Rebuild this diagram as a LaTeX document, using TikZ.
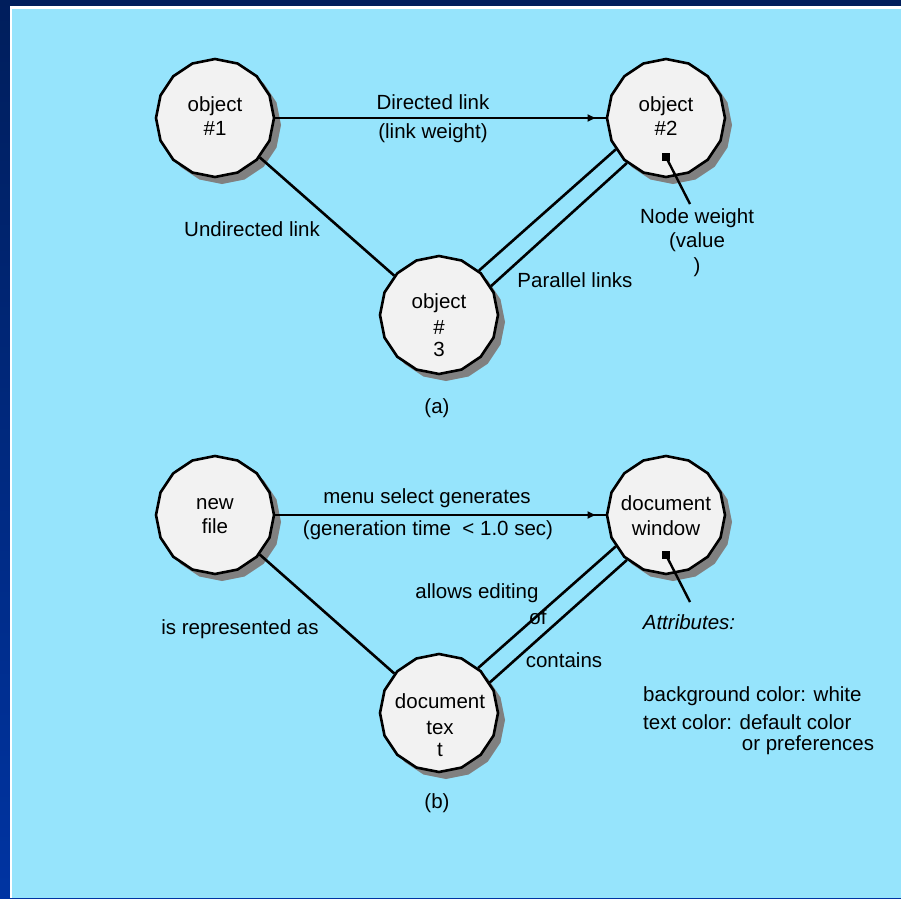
\documentclass[tikz,border=0pt]{standalone}
\usepackage{fontspec}
\setmainfont{Liberation Sans}
\usetikzlibrary{shapes.geometric,shadows,arrows.meta,decorations.markings}

\definecolor{framedark}{RGB}{0,30,92}
\definecolor{framelight}{RGB}{0,52,162}
\definecolor{panel}{RGB}{150,228,252}
\definecolor{nodefill}{RGB}{242,242,242}
\definecolor{shadowgray}{RGB}{128,128,128}

\begin{document}
\begin{tikzpicture}[x=1pt,y=-1pt,
  font=\fontsize{20.5}{24.8}\selectfont,
  entity/.style={regular polygon, regular polygon sides=16,
    shape border rotate=11.25, minimum size=118pt, inner sep=0pt,
    draw=black, line width=2.6pt, fill=nodefill,
    drop shadow={shadow xshift=7pt, shadow yshift=-7pt,
      fill=shadowgray, opacity=1}},
  entitytext/.style={align=center, inner sep=0pt},
  link/.style={line width=2.6pt},
  directed/.style={link, postaction={decorate}, decoration={markings,
    mark=at position -9pt with {\arrow{Latex[length=9pt,width=8pt]}}}},
  lbl/.style={inner sep=0pt, align=center},
  weightmark/.style={fill=black, minimum size=8pt, inner sep=0pt}
]
\useasboundingbox (0,0) rectangle (901,898);

% frame and panel
\shade[top color=framedark, bottom color=framelight] (0,0) rectangle (901,898);
\fill[white] (10,6) rectangle (901,898);
\fill[panel] (12,9) rectangle (901,898);

% ---------------- (a) generic network ----------------
\node[entity] (o1) at (215,118) {};
\node[entity] (o2) at (666,118) {};
\node[entity] (o3) at (439,315) {};
\node[entitytext] (o1t) at (215,116) {object\\\#1};
\node[entitytext] (o2t) at (666,116) {object\\\#2};
\node[entitytext] (o3t) at (439,325) {object\\[2pt]\#\\[-3pt]3};

\draw[directed] (o1) -- (o2);
\draw[link] (o1) -- (o3);
\draw[link] (o3.48) -- (o2.212);
\draw[link] (o3.29) -- (o2.229);

\node[lbl] (dl) at (433,102) {Directed link};
\node[lbl] (lw) at (433,133) {(link weight)};
\node[lbl] (ul) at (252,229) {Undirected link};
\node[lbl] (pl) at (575,280) {Parallel links};

\node[weightmark] (w1) at (666,157) {};
\coordinate (w1end) at (690,204);
\draw[link, line width=2.4pt] (w1.center) -- (w1end);
\node[lbl, anchor=north] (nw) at (697,208) {Node weight\\(value\\)};

\node[lbl] (capa) at (437,408) {(a)};

% ---------------- (b) editor example ----------------
\node[entity] (nf) at (215,515) {};
\node[entity] (dw) at (666,515) {};
\node[entity] (dt) at (439,713) {};
\node[entitytext] (nft) at (215,516) {new\\file};
\node[entitytext] (dwt) at (666,516) {document\\window};
\node[entitytext] (dtt) at (440,725) {document\\[2pt]tex\\[-3pt]t};

\draw[directed] (nf) -- (dw);
\draw[link] (nf) -- (dt);
\draw[link] (dt.49) -- (dw.212);
\draw[link] (dt.31) -- (dw.229);

\node[lbl] (msg) at (427,498) {menu select generates};
\node[lbl] (gt) at (428,530) {(generation time~~< 1.0 sec)};
\node[lbl] (ira) at (240,629) {is represented as};
\node[lbl] (ae) at (477,593) {allows editing};
\node[lbl] (aeof) at (538,617) {of};
\node[lbl] (con) at (564,660) {contains};

\node[weightmark] (w2) at (666,555) {};
\coordinate (w2end) at (690,602);
\draw[link, line width=2.4pt] (w2.center) -- (w2end);
\node[lbl] (attr) at (689,622) {\itshape Attributes:};
\node[lbl, anchor=west] (bg) at (643,696) {background color: white};
\node[lbl, anchor=west] (tc) at (643,722) {text color: default color};
\node[lbl] (op) at (808,745) {or preferences};

\node[lbl] (capb) at (437,803) {(b)};
\end{tikzpicture}
\end{document}
